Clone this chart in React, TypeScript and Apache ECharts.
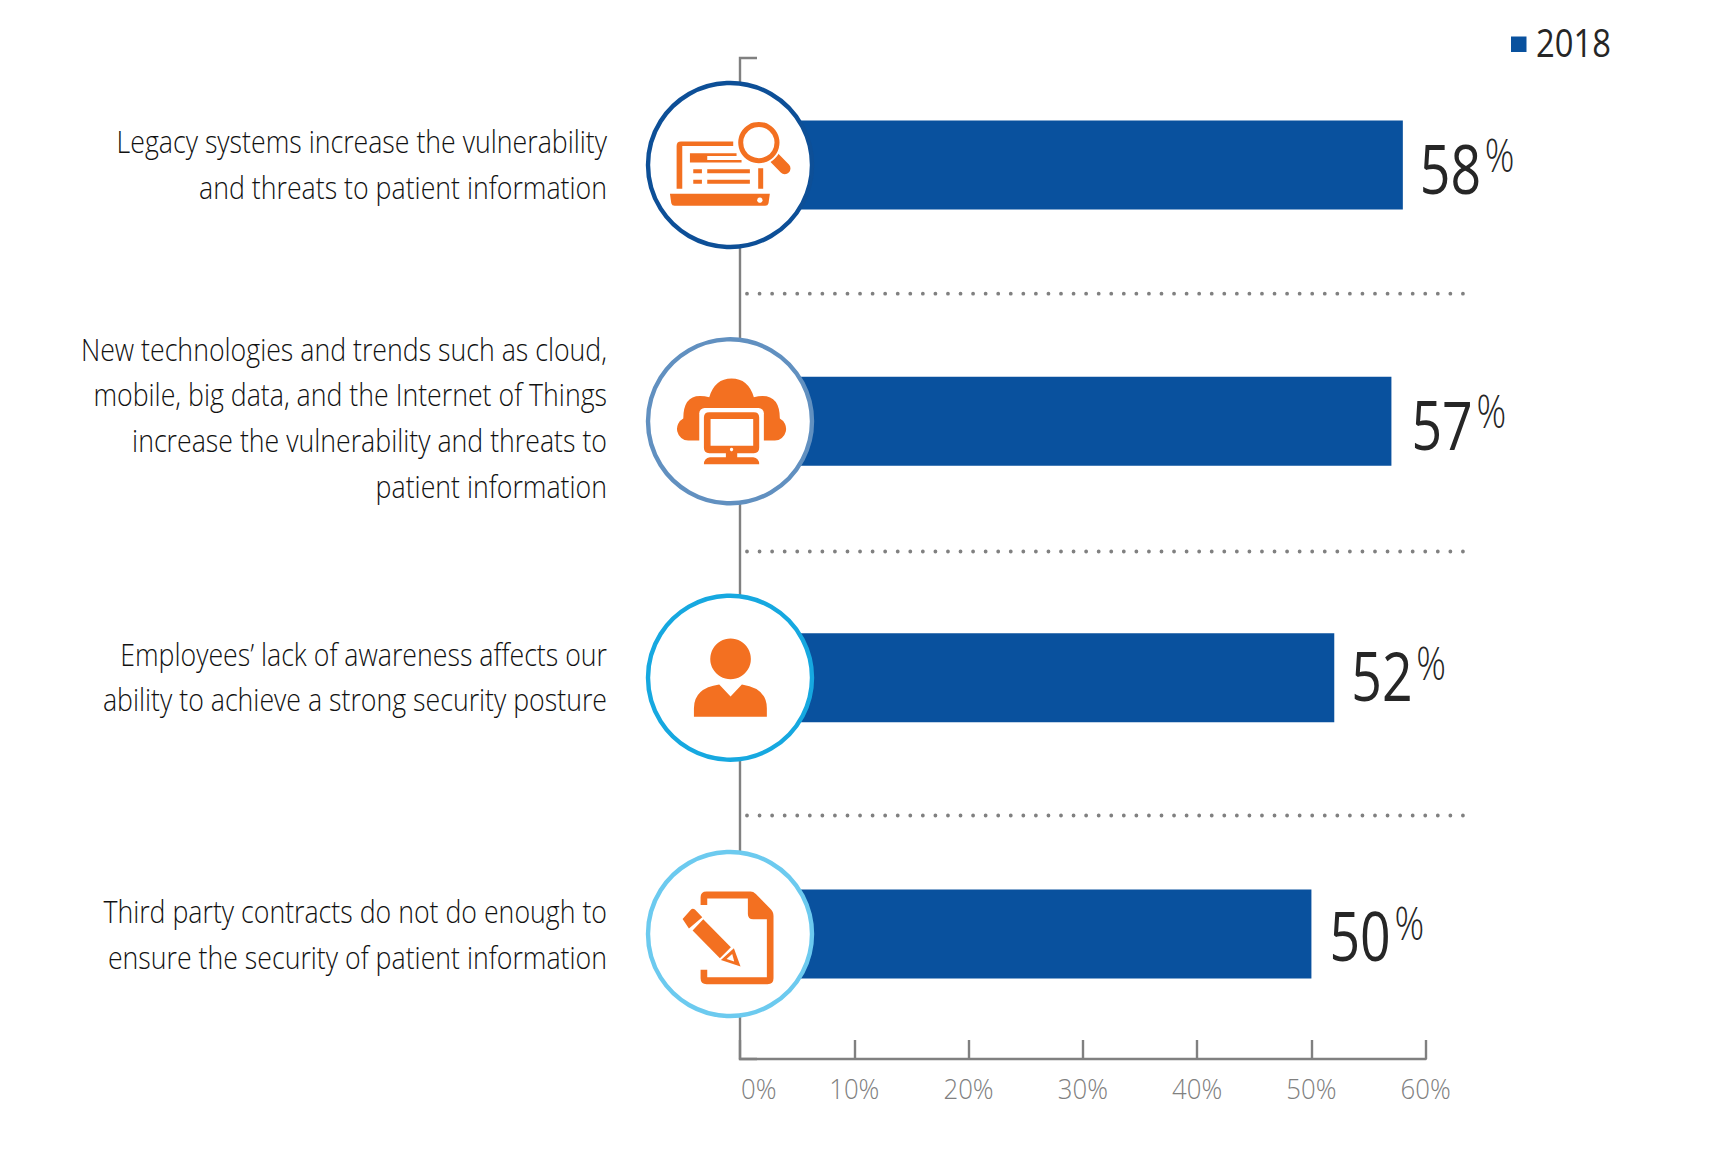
import React, { useEffect, useRef } from "react";
import * as echarts from "echarts";

const categories = [
  "Legacy systems increase the vulnerability\nand threats to patient information",
  "New technologies and trends such as cloud,\nmobile, big data, and the Internet of Things\nincrease the vulnerability and threats to\npatient information",
  "Employees\u2019 lack of awareness affects our\nability to achieve a strong security posture",
  "Third party contracts do not do enough to\nensure the security of patient information",
];
const values2018 = [58, 57, 52, 50];
const xTicks = [0, 10, 20, 30, 40, 50, 60];
const seriesName = "2018";
const ringColors = ["#0d4f97", "#6190c0", "#16a8e0", "#6ccaef"];

const FONT = "'Open Sans', sans-serif";
const BLUE = "#09519e";
const ORANGE = "#f37021";
const GREY = "#808080";
const INK = "#262626";

const GRID_LEFT = 740;
const GRID_WIDTH = 685.7;
const GRID_TOP = 36.83;
const GRID_HEIGHT = 1025.33;
const AXIS_Y = 1059;
const CENTERS = [165, 421.3, 677.7, 934];
const DOT_Y = [293.7, 551.5, 815.5];
const LABEL_DX = [17, 20, 17, 18];
const LABEL_DY = [3, 2.6, -2.2, 1.5];
const CATEGORY_DY = [-1, -4, -1, 0];

const laptopPath =
  "M170 318Q170 305 183 305L340 305L340 318L187 318L187 447L170 447Z" +
  "M415 385L430 385L430 447L415 447Z" +
  "M150 462L450 462L446 490Q444 498 436 498L164 498Q156 498 154 490Z" +
  "M210 340L350 340L350 348L262 348L262 360L365 360L365 368L210 368Z" +
  "M220 388L246 388L246 400L220 400Z M262 388L390 388L390 400L262 400Z" +
  "M220 420L246 420L246 432L220 432Z M262 420L390 420L390 432L262 432Z";
const cloudPath =
  "M205 362A35 35 0 0 1 190 296Q190 228 240 228Q255 228 268 232Q285 176 335 176Q385 176 402 232Q415 228 428 228Q480 228 480 296A35 35 0 0 1 465 362Z";
const monitorPath =
  "M268 277L402 277Q418 277 418 293L418 384Q418 400 402 400L352 400L352 412L400 412Q418 415 418 433L252 433Q252 415 270 412L318 412L318 400L268 400Q252 400 252 384L252 293Q252 277 268 277Z";
const bodyPath =
  "M222 411L222 385Q222 325 298 314L332 350L366 314Q441 325 441 385L441 411Z";
const docPath =
  "M242 195L242 172Q242 155 260 155L392 155Q400 155 408 162L450 205Q461 215 461 228L461 415Q461 433 443 433L260 433Q242 433 242 415L242 390L262 390L262 412L441 412L441 238L400 238Q384 238 384 222L384 176L262 176L262 195Z";
const pencilPath =
  "M188 237L212 210Q218 204 225 209L247 232L207 266Z" +
  "M218 272L250 238L333 322L300 355Z" +
  "M342 325L362 380L303 360Z";
const pencilTipCut = "M337 342L343 365L320 357Z";

echarts.graphic.registerShape("icLaptop", echarts.graphic.extendPath(laptopPath, {}));
echarts.graphic.registerShape("icCloud", echarts.graphic.extendPath(cloudPath, {}));
echarts.graphic.registerShape("icMonitor", echarts.graphic.extendPath(monitorPath, {}));
echarts.graphic.registerShape("icBody", echarts.graphic.extendPath(bodyPath, {}));
echarts.graphic.registerShape("icDoc", echarts.graphic.extendPath(docPath, {}));
echarts.graphic.registerShape("icPencil", echarts.graphic.extendPath(pencilPath, {}));
echarts.graphic.registerShape("icTip", echarts.graphic.extendPath(pencilTipCut, {}));

const Z = 20;
const fillO = { fill: ORANGE };
const fillW = { fill: "#fff" };

function iconGroup(x: number, y: number, children: any[]) {
  return {
    type: "group",
    x,
    y,
    scaleX: 1 / 3,
    scaleY: 1 / 3,
    silent: true,
    children: children.map((c, i) => ({ ...c, z: Z + 1, zlevel: 0, z2: i })),
  };
}

const icons = [
  iconGroup(620, 40, [
    { type: "icLaptop", style: fillO },
    { type: "circle", shape: { cx: 420, cy: 481, r: 8 }, style: fillW },
    { type: "line", shape: { x1: 462, y1: 352, x2: 495, y2: 386 }, style: { stroke: ORANGE, lineWidth: 34, lineCap: "round" } },
    { type: "circle", shape: { cx: 417, cy: 308, r: 68 }, style: fillW },
    { type: "ring", shape: { cx: 417, cy: 308, r: 62, r0: 47 }, style: fillO },
    { type: "rect", shape: { x: 220, y: 349, width: 28, height: 10 }, style: fillO },
  ]),
  iconGroup(620, 320, [
    { type: "icCloud", style: fillO },
    { type: "rect", shape: { x: 238, y: 264, width: 194, height: 180, r: 16 }, style: fillW },
    { type: "icMonitor", style: fillO },
    { type: "rect", shape: { x: 272, y: 297, width: 128, height: 81 }, style: fillW },
    { type: "circle", shape: { cx: 335, cy: 389, r: 5 }, style: fillW },
  ]),
  iconGroup(620, 580, [
    { type: "circle", shape: { cx: 332, cy: 237, r: 61 }, style: fillO },
    { type: "icBody", style: fillO },
  ]),
  iconGroup(620, 840, [
    { type: "icDoc", style: fillO },
    { type: "icPencil", style: fillO },
    { type: "icTip", style: fillW },
  ]),
];

function narrowText(x: number, y: number, text: string, sx: number, style: any) {
  return {
    type: "text",
    x,
    y,
    scaleX: sx,
    silent: true,
    style: { text, fontFamily: FONT, verticalAlign: "middle", ...style },
  };
}

export default function App() {
  const ref = useRef<HTMLDivElement>(null);
  useEffect(() => {
    document.body.style.margin = "0";
    const chart = echarts.init(ref.current!, undefined, { renderer: "svg" });
    chart.setOption({
      animation: false,
      backgroundColor: "#fff",
      legend: {
        left: 1511,
        top: 36.5,
        padding: 0,
        data: [seriesName],
        icon: "rect",
        itemWidth: 15.5,
        itemHeight: 15.5,
        selectedMode: false,
        formatter: () => "",
      },
      grid: {
        left: GRID_LEFT,
        top: GRID_TOP,
        width: GRID_WIDTH,
        height: GRID_HEIGHT,
        containLabel: false,
        outerBoundsMode: "none",
      },
      xAxis: {
        type: "value",
        min: 0,
        max: 60,
        interval: 10,
        position: "bottom",
        offset: -(GRID_TOP + GRID_HEIGHT - AXIS_Y),
        splitLine: { show: false },
        axisLine: { show: true, lineStyle: { color: GREY, width: 2.4 } },
        axisTick: { show: true, inside: true, length: 19, lineStyle: { color: GREY, width: 2.4 } },
        axisLabel: { show: false },
      },
      yAxis: {
        type: "category",
        inverse: true,
        data: categories,
        axisLine: { show: false },
        axisTick: { show: false },
        axisLabel: { show: false },
      },
      series: [
        {
          name: seriesName,
          type: "bar",
          data: values2018,
          barWidth: 89,
          itemStyle: { color: BLUE },
        },
        {
          name: "category labels",
          type: "custom",
          silent: true,
          encode: { x: 0, y: 1 },
          data: categories.map((_, i) => [0, i]),
          renderItem: (params: any, api: any) => {
            const i = params.dataIndex;
            const y = api.coord([0, api.value(1)])[1];
            return narrowText(607, y + CATEGORY_DY[i], categories[i], 0.835, {
              align: "right",
              fontSize: 32,
              fontWeight: 300,
              lineHeight: 45.7,
              fill: "#111111",
            });
          },
        },
        {
          name: "value labels",
          type: "custom",
          silent: true,
          z: 5,
          encode: { x: 0, y: 1 },
          data: values2018.map((v, i) => [v, i]),
          renderItem: (params: any, api: any) => {
            const i = params.dataIndex;
            const p = api.coord([api.value(0), api.value(1)]);
            const x = p[0] + LABEL_DX[i];
            const y = p[1] + LABEL_DY[i];
            return {
              type: "group",
              children: [
                narrowText(x, y, String(values2018[i]), 0.8, { align: "left", fontSize: 67, fill: INK }),
                narrowText(x + 65, y - 14, "%", 0.8, { align: "left", fontSize: 46, fontWeight: 300, fill: INK }),
              ],
            };
          },
        },
        {
          name: "tick labels",
          type: "custom",
          silent: true,
          encode: { x: 0, y: 1 },
          data: xTicks.map((t) => [t, 0]),
          renderItem: (params: any, api: any) => {
            const t = api.value(0);
            const x = api.coord([t, 0])[0];
            return narrowText(t === 0 ? x + 1 : x, 1088, `${t}%`, 0.92, {
              align: t === 0 ? "left" : "center",
              fontSize: 28,
              fontWeight: 300,
              fill: GREY,
            });
          },
        },
      ],
      graphic: [
        {
          type: "polyline",
          z: 1,
          silent: true,
          shape: { points: [[757, 58], [GRID_LEFT, 58], [GRID_LEFT, AXIS_Y], [757, AXIS_Y]] },
          style: { stroke: GREY, lineWidth: 2.4, fill: "none" },
        },
        ...DOT_Y.map((y) => ({
          type: "line",
          z: 1,
          silent: true,
          shape: { x1: 747, y1: y, x2: 1464, y2: y },
          style: { stroke: GREY, lineWidth: 3.8, lineCap: "round", lineDash: [0.01, 12.55] },
        })),
        ...CENTERS.map((cy, i) => ({
          type: "circle",
          z: Z,
          silent: true,
          shape: { cx: 730, cy, r: 82 },
          style: { fill: "#fff", stroke: ringColors[i], lineWidth: 4.4 },
        })),
        ...icons,
        {
          type: "text",
          x: 1536,
          y: 42,
          scaleX: 0.84,
          silent: true,
          style: { text: seriesName, fontFamily: FONT, fontSize: 39, fill: INK, align: "left", verticalAlign: "middle" },
        },
      ],
    });
    return () => chart.dispose();
  }, []);
  return <div ref={ref} style={{ width: 1718, height: 1150 }} />;
}
